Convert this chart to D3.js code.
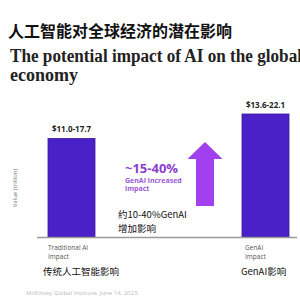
<!DOCTYPE html>
<html>
<head>
<meta charset="utf-8">
<script src="https://cdn.jsdelivr.net/npm/d3@7"></script>
<style>
  body { margin: 0; background: #fff; }
  svg { display: block; }
</style>
</head>
<body>
<svg id="chart" width="300" height="300"></svg>
<script>
// data
const categories = ["Traditional AI Impact", "GenAI Impact"];
const categoryLabelsEn = [["Traditional AI", "Impact"], ["GenAI", "Impact"]];
const categoryLabelsZh = ["传统人工智能影响", "GenAI影响"];
const rangeLow = [11.0, 13.6];
const rangeHigh = [17.7, 22.1];
const increaseText = ["~15-40%", "GenAI increased", "impact"];
const increaseZh = ["约10-40%GenAI", "增加影响"];

const svg = d3.select("#chart");

const x = d3.scaleOrdinal()
    .domain(categories)
    .range([48, 242]);
const barW = 47;

const y = d3.scaleLinear()
    .domain([0, 22.1])
    .range([237, 114]);

// titles
svg.append("text")
    .attr("x", 8).attr("y", 37)
    .style("font-family", "'Noto Sans CJK SC'")
    .style("font-weight", "bold")
    .style("font-size", "16px")
    .attr("fill", "#111")
    .text("人工智能对全球经济的潜在影响");

const titleEn = svg.append("text")
    .style("font-family", "'Liberation Serif'")
    .style("font-weight", "bold")
    .style("font-size", "18px")
    .attr("fill", "#222");
titleEn.append("tspan").attr("x", 10).attr("y", 62)
    .attr("textLength", 292).attr("lengthAdjust", "spacingAndGlyphs")
    .text("The potential impact of AI on the global");
titleEn.append("tspan").attr("x", 10).attr("y", 81).text("economy");

// bars
svg.selectAll(".bar")
    .data(categories)
    .enter().append("rect")
    .attr("class", "bar")
    .attr("x", d => x(d))
    .attr("y", (d, i) => y(rangeHigh[i]))
    .attr("width", barW)
    .attr("height", (d, i) => y(0) - y(rangeHigh[i]))
    .attr("fill", "#4a21c9")
    .attr("stroke", "#3a1896")
    .attr("stroke-width", 0.8);

svg.selectAll(".val")
    .data(categories)
    .enter().append("text")
    .attr("class", "val")
    .attr("x", d => x(d) + barW / 2)
    .attr("y", (d, i) => y(rangeHigh[i]) - 6)
    .attr("text-anchor", "middle")
    .style("font-family", "'Open Sans'")
    .style("font-weight", "bold")
    .style("font-size", "8px")
    .attr("fill", "#222")
    .text((d, i) => "$" + rangeLow[i].toFixed(1) + "-" + rangeHigh[i].toFixed(1));

// baseline
svg.append("line")
    .attr("x1", 37).attr("x2", 297)
    .attr("y1", y(0) + 0.5).attr("y2", y(0) + 0.5)
    .attr("stroke", "#9a9a9a")
    .attr("stroke-width", 1.3);

// y axis title
svg.append("text")
    .attr("transform", "translate(17,188) rotate(-90)")
    .attr("text-anchor", "middle")
    .style("font-family", "'Open Sans'")
    .style("font-size", "6px")
    .attr("fill", "#777")
    .text("Value (trillion)");

// category labels
categories.forEach((c, i) => {
    const t = svg.append("text")
        .style("font-family", "'Open Sans'")
        .style("font-size", "6.5px")
        .attr("fill", "#555");
    categoryLabelsEn[i].forEach((line, j) => {
        t.append("tspan").attr("x", x(c) + (i ? 3 : 0)).attr("y", 250 + j * 8.5).text(line);
    });
    svg.append("text")
        .attr("x", x(c) + (i ? -1 : -5))
        .attr("y", 275)
        .style("font-family", "'Noto Sans CJK SC'")
        .style("font-size", "9.5px")
        .attr("fill", "#111")
        .text(categoryLabelsZh[i]);
});

// arrow
const ax = 205, aTop = 142, aHead = 159, aBot = 206, headHalf = 17.5, shaftHalf = 9;
svg.append("path")
    .attr("d", d3.line()([
        [ax, aTop], [ax + headHalf, aHead], [ax + shaftHalf, aHead], [ax + shaftHalf, aBot],
        [ax - shaftHalf, aBot], [ax - shaftHalf, aHead], [ax - headHalf, aHead]
    ]) + "Z")
    .attr("fill", "#a040ee");

// increase annotation
svg.append("text")
    .attr("x", 125).attr("y", 173)
    .style("font-family", "'Open Sans'")
    .style("font-weight", "bold")
    .style("font-size", "13px")
    .attr("fill", "#8a3fd0")
    .text(increaseText[0]);
const inc = svg.append("text")
    .style("font-family", "'Open Sans'")
    .style("font-weight", "bold")
    .style("font-size", "7px")
    .attr("fill", "#9a5ad6");
inc.append("tspan").attr("x", 125).attr("y", 183).text(increaseText[1]);
inc.append("tspan").attr("x", 125).attr("y", 191).text(increaseText[2]);

increaseZh.forEach((line, j) => {
    svg.append("text")
        .attr("x", 118).attr("y", 218 + j * 14)
        .style("font-family", "'Noto Sans CJK SC'")
        .style("font-size", "9.5px")
        .attr("fill", "#111")
        .text(line);
});

// source
svg.append("text")
    .attr("x", 26).attr("y", 295)
    .style("font-family", "'Open Sans'")
    .style("font-size", "6px")
    .attr("fill", "#bbb")
    .text("McKinsey Global Institute, June 14, 2023.");
</script>
</body>
</html>
